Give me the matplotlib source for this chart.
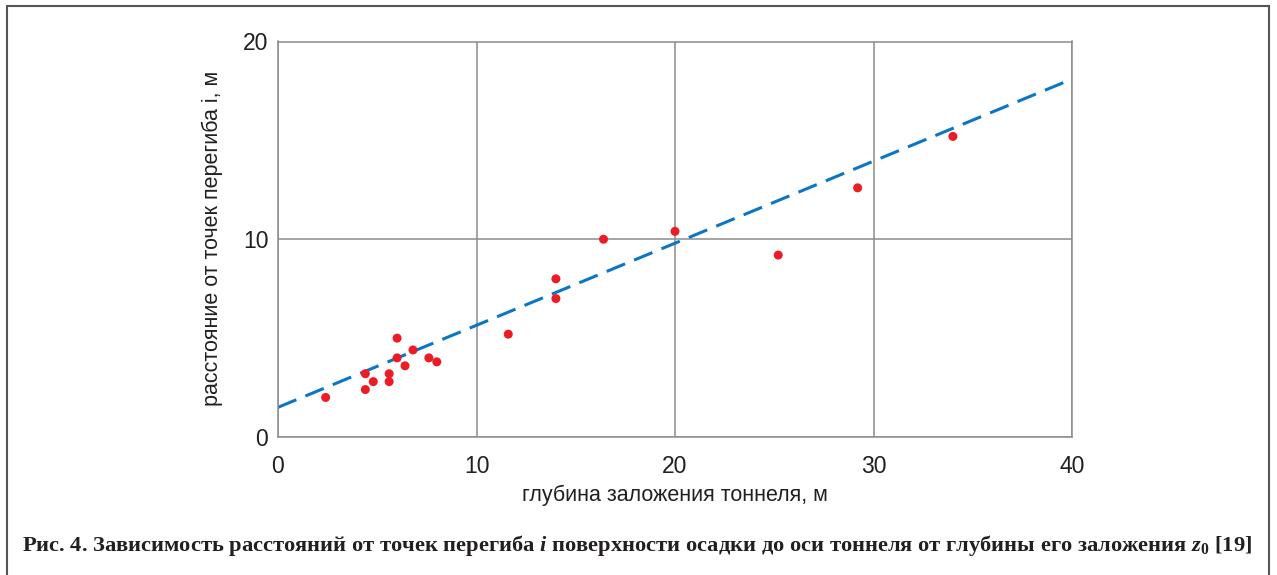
import numpy as np
import matplotlib
matplotlib.use("Agg")
import matplotlib.pyplot as plt
from matplotlib.patches import Rectangle

plt.rcParams['mathtext.fontset'] = 'custom'
plt.rcParams['mathtext.it'] = 'Liberation Serif:italic'
plt.rcParams['mathtext.bfit'] = 'Liberation Serif:italic:bold'
plt.rcParams['mathtext.bf'] = 'Liberation Serif:bold'
plt.rcParams['mathtext.rm'] = 'Liberation Serif'

# depth of tunnel z0 (m) and distance to inflection point i (m)
depth = [2.4, 4.4, 4.4, 4.8, 5.6, 5.6, 6.0, 6.0, 6.4, 6.8, 7.6, 8.0,
         11.6, 14.0, 14.0, 16.4, 20.0, 25.2, 29.2, 34.0]
dist_i = [2.0, 2.4, 3.2, 2.8, 2.8, 3.2, 5.0, 4.0, 3.6, 4.4, 4.0, 3.8,
          5.2, 8.0, 7.0, 10.0, 10.4, 9.2, 12.6, 15.2]

# trend line end points
fit_x = [0, 40]
fit_y = [1.5, 18.1]

xticks = [0, 10, 20, 30, 40]
yticks = [0, 10, 20]

fig = plt.figure(figsize=(12.77, 5.75), dpi=100)
ax = fig.add_axes([278/1277, 1-437/575, (1072-278)/1277, (437-41.5)/575])

ax.plot(fit_x, fit_y, color='#0a76c4', lw=2.2, dashes=(6.5, 3.2), zorder=2)
ax.scatter(depth, dist_i, s=42, color='#ec1c24', edgecolors='none', zorder=3)

ax.set_xlim(0, 40)
ax.set_ylim(0, 20)
ax.set_xticks(xticks)
ax.set_yticks(yticks)
ax.grid(True, color='#8c8c8c', lw=1.1)
ax.set_axisbelow(True)
for s in ax.spines.values():
    s.set_color('#8c8c8c')
    s.set_linewidth(1.1)
ax.tick_params(length=0, labelsize=16.5, labelcolor='#231f20')
ax.tick_params(axis='x', pad=13)
ax.tick_params(axis='y', pad=7)
for lab in ax.get_xticklabels() + ax.get_yticklabels():
    lab.set_family('Liberation Sans')

fig.text(675/1277, 1-495/575, 'глубина заложения тоннеля, м',
         family='Liberation Sans', fontsize=15.5, color='#231f20',
         ha='center', va='center')
fig.text(212/1277, 1-238/575, 'расстояние от точек перегиба i, м',
         family='Liberation Sans', fontsize=15.5, color='#231f20',
         ha='center', va='center', rotation=90)

fig.text(22/1277, 1-545/575,
         'Рис. 4. Зависимость расстояний от точек перегиба $\\mathbfit{i}$ поверхности осадки '
         'до оси тоннеля от глубины его заложения $\\mathbfit{z}_\\mathbf{0}$ [19]',
         family='Liberation Serif', fontweight='bold', fontsize=16.2,
         color='#231f20', ha='left', va='center')

# outer frame of the figure
fig.patches.append(Rectangle((7/1277, -0.05), (1269-7)/1277, 1.05-6/575,
                             transform=fig.transFigure, fill=False,
                             edgecolor='#555555', lw=1.5))

fig.savefig('out.png', dpi=100)
